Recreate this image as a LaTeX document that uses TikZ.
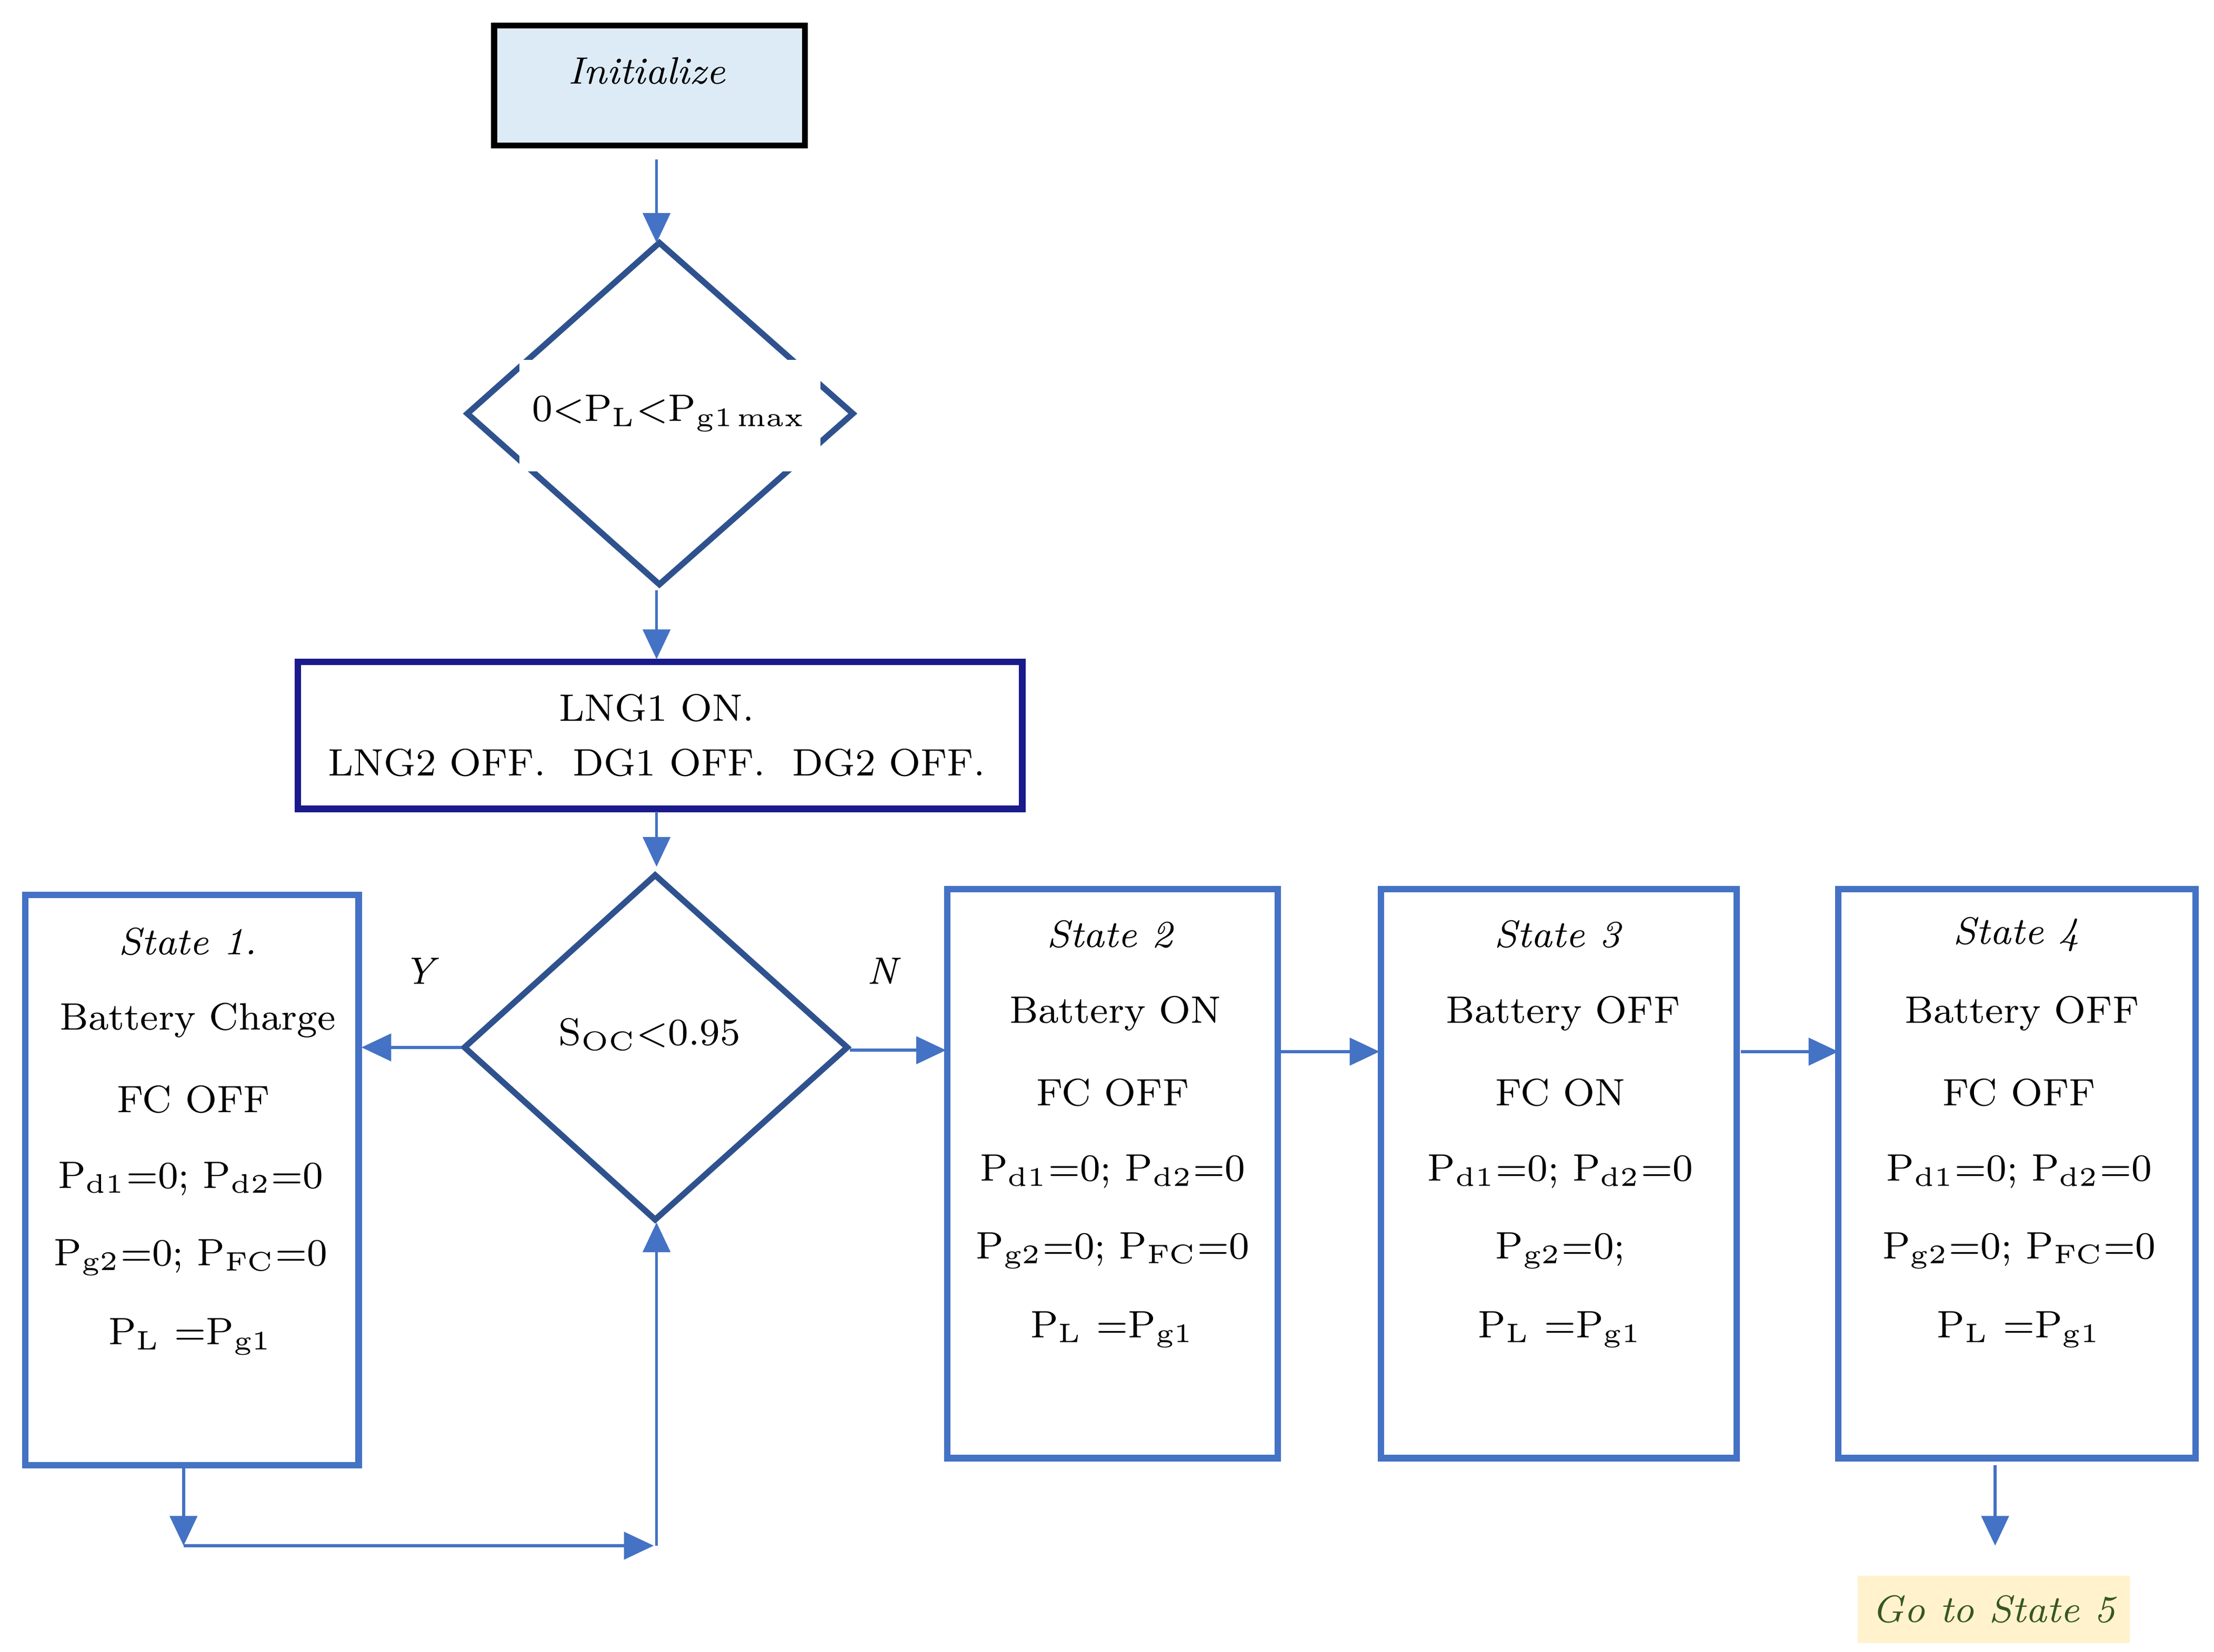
\documentclass[tikz,border=0pt]{standalone}
\usetikzlibrary{arrows.meta}
\definecolor{dblue}{HTML}{2F528F}
\definecolor{mblue}{HTML}{4472C4}
\definecolor{navy}{HTML}{1A1A8C}
\definecolor{lblue}{HTML}{DDEBF7}
\definecolor{gold}{HTML}{FFF2CC}
\definecolor{gtext}{HTML}{375623}
\newcommand\Pq[1]{P\textsubscript{#1}}
\newcommand\fs{\fontsize{7.7}{9}\selectfont}
\begin{document}
\begin{tikzpicture}[x=0.01cm,y=-0.01cm,
  arr/.style={draw=mblue,line width=0.6pt,-{Triangle[width=5.5pt,length=6pt]}},
  st/.style={draw=mblue,line width=1.3pt},
  txt/.style={font=\fs,inner sep=0pt},
  itx/.style={font=\fs\itshape,inner sep=0pt},
  dia/.style={draw=dblue,line width=1.2pt,line join=miter}]
\useasboundingbox (0,0) rectangle (1568,1170);
% Initialize
\draw[fill=lblue,line width=1.2pt] (350,18) rectangle (570,103);
\node[itx] (init) at (458,50) {Initialize};
\coordinate (initb) at (465,113);
% diamond 1
\draw[dia] (467,172) -- (604,293) -- (467,414) -- (331,293) -- cycle;
\fill[white] (368,255) rectangle (581,334);
\coordinate (d1t) at (465,172); \coordinate (d1b) at (465,418);
\node[txt] (d1) at (474,293) {0<\Pq{L}<\Pq{g1\,max}};
\draw[arr] (initb) -- (d1t);
% LNG box
\draw[draw=navy,line width=1.3pt] (211,469) rectangle (724,573);
\node[txt,align=center] (lng) at (465,521) {LNG1 ON.\\[2pt]LNG2 OFF.\ \ DG1 OFF.\ \ DG2 OFF.};
\coordinate (lngt) at (465,467);
\draw[arr] (d1b) -- (lngt);
\coordinate (lngb) at (465,575); \coordinate (d2t) at (465,614);
\draw[arr] (lngb) -- (d2t);
% diamond 2
\draw[dia] (464,620) -- (600,742) -- (464,864) -- (329,742) -- cycle;
\node[txt] (d2) at (460,733) {S\textsubscript{OC}<0.95};
\coordinate (d2l) at (327,742); \coordinate (d2r) at (602,744); \coordinate (d2b) at (465,866);
% state boxes
\draw[st] (18,634) rectangle (254,1038);
\draw[st] (671,630) rectangle (905,1033);
\draw[st] (978,630) rectangle (1230,1033);
\draw[st] (1302,630) rectangle (1555,1033);
% state 1 text
\node[itx] (s1a) at (133,667) {State 1.};
\node[txt] (s1b) at (140,723) {Battery Charge};
\node[txt] (s1c) at (137,779) {FC OFF};
\node[txt] (s1d) at (135,835) {\Pq{d1}=0; \Pq{d2}=0};
\node[txt] (s1e) at (135,891) {\Pq{g2}=0; \Pq{FC}=0};
\node[txt] (s1f) at (135,947) {\Pq{L} =\Pq{g1}};
% states 2-4
\foreach \n/\x/\t/\b/\f in {2/788/{Battery ON}/{FC OFF}/{\Pq{g2}=0; \Pq{FC}=0},
   3/1105/{Battery OFF}/{FC ON}/{\Pq{g2}=0;},
   4/1430/{Battery OFF}/{FC OFF}/{\Pq{g2}=0; \Pq{FC}=0}}{
  \node[itx] (s\n a) at (\x-2,662) {State \n};
  \node[txt] (s\n b) at (\x+2,718) {\t};
  \node[txt] (s\n c) at (\x,774) {\b};
  \node[txt] (s\n d) at (\x,830) {\Pq{d1}=0; \Pq{d2}=0};
  \node[txt] (s\n e) at (\x,886) {\f};
  \node[txt] (s\n f) at (\x,942) {\Pq{L} =\Pq{g1}};
}
% Y / N
\node[itx] (Y) at (297,688) {Y};
\node[itx] (N) at (625,688) {N};
\coordinate (s1r) at (256,742);
\draw[arr] (d2l) -- (s1r);
\coordinate (s2l) at (670,744);
\draw[arr] (d2r) -- (s2l);
\coordinate (s2r) at (907,745); \coordinate (s3l) at (977,745);
\draw[arr] (s2r) -- (s3l);
\coordinate (s3r) at (1233,745); \coordinate (s4l) at (1302,745);
\draw[arr] (s3r) -- (s4l);
% loop back
\coordinate (s1b0) at (130,1040); \coordinate (c1) at (130,1095);
\coordinate (c2) at (463,1095); \coordinate (c3) at (465,1095);
\draw[arr] (s1b0) -- (c1);
\draw[arr] (c1) -- (c2);
\draw[arr] (c3) -- (d2b);
% go to state 5
\coordinate (s4b) at (1413,1038); \coordinate (g5t) at (1413,1095);
\draw[arr] (s4b) -- (g5t);
\node[fill=gold,text=gtext,font=\fs\itshape,inner xsep=3pt,inner ysep=4pt] (g5) at (1412,1140) {Go to State 5};
\end{tikzpicture}
\end{document}
